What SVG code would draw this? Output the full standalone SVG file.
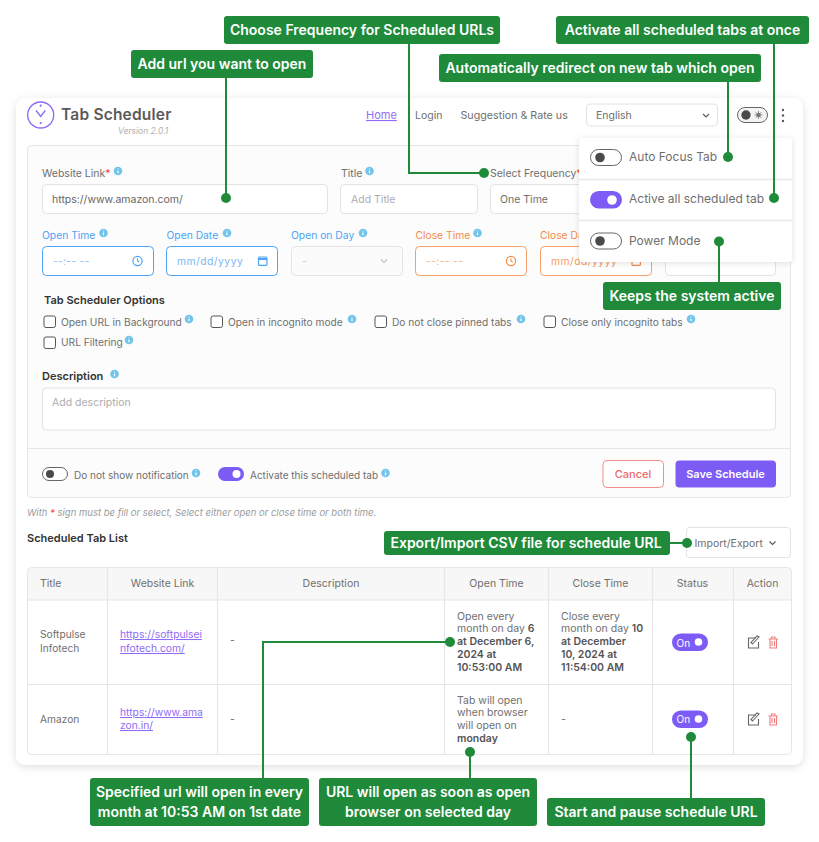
<svg xmlns="http://www.w3.org/2000/svg" width="819" height="842" viewBox="0 0 819 842">
<style>
text{font-family:"Inter","Liberation Sans",sans-serif;font-size:10.5px;fill:#6f6f6f}
.c{font-size:14px;font-weight:600;fill:#fff;text-anchor:middle}
.cb{fill:#1e8a3a}
.wire{fill:none;stroke:#1e8a3a;stroke-width:2}
.dot{fill:#1e8a3a}
.f{fill:#fff;stroke:#e2e2e2;stroke-width:1}
.b{font-weight:600;fill:#555}
.l{font-weight:600;fill:#333;font-size:11px}
.blue{fill:#4da3f5;font-size:10.3px}.or{fill:#f58a4b;font-size:10.3px}
.ph{fill:#adadad}
.m{text-anchor:middle}
.link{fill:#8f6cf5;text-decoration:underline;font-size:10.3px}
.g{stroke:#e6e6e6;stroke-width:1;fill:none}
.tog{fill:#fff;stroke:#666;stroke-width:1}
.on{fill:#7d5cf6}
.cbx{fill:#fff;stroke:#555;stroke-width:1}
.opt{font-size:10.2px}
.mi{font-size:12px}
</style>
<defs>
<filter id="sh" x="-5%" y="-5%" width="110%" height="110%"><feDropShadow dx="0" dy="2" stdDeviation="4" flood-color="#000" flood-opacity=".13"/></filter>
<filter id="sh2" x="-10%" y="-10%" width="120%" height="120%"><feDropShadow dx="0" dy="1" stdDeviation="3" flood-color="#000" flood-opacity=".12"/></filter>
<g id="i"><circle r="4.3" fill="#73c4ea"/><path d="M0-.5V2.3M0-2.6V-1.8" stroke="#fff" stroke-width="1.2"/></g>
<g id="clock"><circle r="4.6" fill="none" stroke="currentColor" stroke-width="1.2"/><path d="M0-2.6V0L1.8 1" fill="none" stroke="currentColor" stroke-width="1.1"/></g>
<g id="cal"><rect x="-4" y="-4" width="8.4" height="8.4" rx="1" fill="none" stroke="currentColor" stroke-width="1.2"/><path d="M-4-2H4.4" stroke="currentColor" stroke-width="2"/></g>
<path id="chev" d="M-3-1.5L0 1.5L3-1.5" fill="none" stroke="#555" stroke-width="1.1"/>
</defs>
<rect width="819" height="842" fill="#fff"/>

<g id="app-card">
<rect x="16" y="98" width="787" height="667" rx="10" fill="#fff" filter="url(#sh)"/>
<circle cx="40.700" cy="115" r="13" fill="none" stroke="#8b68f5" stroke-width="1.300"/>
<path d="M36 110.500L40.700 116.500L45.300 110.500" fill="none" stroke="#8b68f5" stroke-width="1.300"/>
<circle cx="40.700" cy="105.700" r="1.100" fill="#8b68f5"/><circle cx="40.700" cy="123" r="1.100" fill="#8b68f5"/>
<text x="61" y="120" style="font-size:15.500px;font-weight:600;fill:#5a5a5a;letter-spacing:.2px">Tab Scheduler</text>
<text x="118" y="134" style="font-size:8.500px;font-style:italic;fill:#b0b0b0">Version 2.0.1</text>
<text x="366" y="119" class="link" style="font-size:11px">Home</text>
<text x="415" y="119" style="font-size:10.500px">Login</text>
<text x="460.500" y="119" style="font-size:10.700px">Suggestion &amp; Rate us</text>
<rect x="586.500" y="104" width="131" height="22" rx="4" class="f"/>
<text x="596" y="119">English</text>
<use href="#chev" x="706" y="115.500"/>
<rect x="737.500" y="107.500" width="30" height="15" rx="7.500" fill="#f4f4f4" stroke="#666"/>
<circle cx="746" cy="115" r="4.700" fill="#4a4a4a"/>
<circle cx="758.500" cy="115" r="2.200" fill="#777"/>
<path d="M758.500 111V119M754.500 115H762.500M755.700 112.200L761.300 117.800M761.300 112.200L755.700 117.800" stroke="#777" stroke-width=".8"/>
<circle cx="783" cy="110" r="1.200" fill="#555"/><circle cx="783" cy="115.500" r="1.200" fill="#555"/><circle cx="783" cy="121" r="1.200" fill="#555"/>
</g>

<g id="form-panel">
<rect x="27.500" y="145.500" width="763" height="352" rx="4" fill="#fcfcfc" stroke="#e6e6e6"/>
<path class="g" d="M28 448.500H790" stroke-width="1.500"/>
<text x="42" y="177">Website Link<tspan fill="#f33">*</tspan></text><use href="#i" x="118" y="171"/>
<rect x="42.500" y="184.500" width="285" height="29" rx="4" class="f"/>
<text x="52" y="203" style="fill:#666">https://www.amazon.com/</text>
<text x="341" y="177">Title</text><use href="#i" x="369.500" y="171"/>
<rect x="340.500" y="184.500" width="137" height="29" rx="4" class="f"/>
<text x="351" y="203" class="ph">Add Title</text>
<text x="490" y="177">Select Frequency<tspan fill="#f33">*</tspan></text>
<rect x="490.500" y="184.500" width="137" height="29" rx="4" class="f"/>
<text x="500" y="203">One Time</text>

<text x="42" y="239" class="blue">Open Time</text><use href="#i" x="103.500" y="233"/>
<rect x="42.500" y="246.500" width="111" height="29" rx="4" fill="#fff" stroke="#4da3f5"/>
<text x="53" y="265" class="blue" style="fill:#8cc2f7;letter-spacing:.3px">--:-- --</text>
<use href="#clock" x="137.500" y="261" color="#4da3f5"/>
<text x="166.500" y="239" class="blue">Open Date</text><use href="#i" x="227" y="233"/>
<rect x="166.500" y="246.500" width="111" height="29" rx="4" fill="#fff" stroke="#4da3f5"/>
<text x="177" y="265" class="blue" style="fill:#7ab7f5;letter-spacing:.5px">mm/dd/yyyy</text>
<use href="#cal" x="262.500" y="261" color="#4da3f5"/>
<text x="291" y="239" class="blue">Open on Day</text><use href="#i" x="363" y="233"/>
<rect x="291.500" y="246.500" width="111" height="29" rx="4" fill="#fbfbfb" stroke="#e4e4e4"/>
<text x="302" y="265" style="fill:#ccc">-</text>
<use href="#chev" x="384" y="261" style="opacity:.35"/>
<text x="415.500" y="239" class="or">Close Time</text><use href="#i" x="477.500" y="233"/>
<rect x="415.500" y="246.500" width="111" height="29" rx="4" fill="#fff" stroke="#f5a069"/>
<text x="426" y="265" style="fill:#f8b48a;letter-spacing:.3px">--:-- --</text>
<use href="#clock" x="511" y="261" color="#f58a4b"/>
<text x="540" y="239" class="or">Close Date</text>
<rect x="540.500" y="246.500" width="111" height="29" rx="4" fill="#fff" stroke="#f5a069"/>
<text x="551" y="265" class="or" style="fill:#f59a64;letter-spacing:.5px">mm/dd/yyyy</text>
<use href="#cal" x="636" y="261" color="#f58a4b"/>
<rect x="665.500" y="246.500" width="110" height="29" rx="4" class="f"/>

<text x="44" y="304" class="l">Tab Scheduler Options</text>
<rect x="44" y="316" width="11.500" height="11.500" rx="2" class="cbx"/><text x="61" y="326" class="opt">Open URL in Background</text><use href="#i" x="189" y="319"/>
<rect x="211" y="316" width="11.500" height="11.500" rx="2" class="cbx"/><text x="228" y="326" class="opt">Open in incognito mode</text><use href="#i" x="352" y="319"/>
<rect x="375" y="316" width="11.500" height="11.500" rx="2" class="cbx"/><text x="392" y="326" class="opt">Do not close pinned tabs</text><use href="#i" x="521" y="319"/>
<rect x="544" y="316" width="11.500" height="11.500" rx="2" class="cbx"/><text x="561" y="326" class="opt">Close only incognito tabs</text><use href="#i" x="691" y="319"/>
<rect x="44" y="337" width="11.500" height="11.500" rx="2" class="cbx"/><text x="61" y="346" class="opt">URL Filtering</text><use href="#i" x="129" y="340"/>

<text x="42" y="380" class="l">Description</text><use href="#i" x="114.500" y="374"/>
<rect x="42.500" y="388" width="733" height="42" rx="4" class="f"/>
<text x="52" y="406" class="ph">Add description</text>

<rect x="42.500" y="467.500" width="25" height="13" rx="6.500" class="tog"/><circle cx="50" cy="474" r="4" fill="#4a4a4a"/>
<text x="74" y="479" style="font-size:10px">Do not show notification</text><use href="#i" x="196" y="473"/>
<rect x="218" y="467" width="26" height="14" rx="7" class="on"/><circle cx="236.500" cy="474" r="4" fill="#fff"/>
<text x="250" y="479" style="font-size:10px">Activate this scheduled tab</text><use href="#i" x="385.500" y="473"/>
<rect x="603" y="460.500" width="60.500" height="27" rx="4" fill="#fff" stroke="#f58a8a"/>
<text x="633" y="478" class="m" style="font-size:11px;fill:#f06a6a;font-weight:500">Cancel</text>
<rect x="675.500" y="460.500" width="100.500" height="27" rx="4" class="on"/>
<text x="725.500" y="478" class="m" style="font-size:11px;fill:#fff;font-weight:600">Save Schedule</text>
</g>
<text id="note" x="27" y="516" style="font-size:9.500px;font-style:italic;fill:#9a9a9a">With <tspan fill="#f33">*</tspan> sign must be fill or select, Select either open or close time or both time.</text>

<g id="menu">
<rect x="579" y="138" width="213" height="124" rx="4" fill="#fff" filter="url(#sh2)"/>
<path d="M579 179.500H792M579 220.500H792" stroke="#e8e8e8" stroke-width="1.500"/>
<rect x="590.500" y="149.500" width="31" height="16" rx="8" class="tog"/><circle cx="600" cy="157.500" r="4.800" fill="#4a4a4a"/>
<text x="629" y="161" class="mi">Auto Focus Tab</text>
<rect x="590" y="191" width="32" height="17.500" rx="8.700" class="on"/><circle cx="612" cy="200" r="4.800" fill="#fff"/>
<text x="629" y="203" class="mi">Active all scheduled tab</text>
<rect x="590.500" y="233" width="31" height="16" rx="8" class="tog"/><circle cx="600" cy="241" r="4.800" fill="#4a4a4a"/>
<text x="629" y="244.500" class="mi">Power Mode</text>
</g>

<g id="list-head">
<text x="27" y="542" class="l">Scheduled Tab List</text>
<rect x="686.500" y="527.500" width="104" height="30" rx="3" class="f"/>
<text x="694.500" y="546.500">Import/Export</text>
<use href="#chev" x="772.500" y="543"/>
</g>

<g id="table">
<rect x="27.500" y="567.500" width="764" height="187" rx="4" fill="#fff"/>
<path d="M28 568H791V600H28Z" fill="#f7f7f7"/>
<rect x="27.500" y="567.500" width="764" height="187" rx="4" class="g"/>
<path class="g" d="M28 600H791M28 684.500H791M107.500 568V754M217.500 568V754M444.500 568V754M548.500 568V754M652.500 568V754M733.500 568V754" style="stroke-width:1.200"/>
<text x="40" y="587">Title</text>
<text x="162.500" y="587" class="m">Website Link</text>
<text x="331" y="587" class="m">Description</text>
<text x="496.500" y="587" class="m">Open Time</text>
<text x="600.500" y="587" class="m">Close Time</text>
<text x="692.500" y="587" class="m">Status</text>
<text x="762.500" y="587" class="m">Action</text>
<text x="40" y="638" style="font-size:10.200px">Softpulse</text><text x="40" y="652" style="font-size:10.200px">Infotech</text>
<text x="120" y="638" class="link">https://softpulsei</text><text x="120" y="652" class="link">nfotech.com/</text>
<text x="230" y="644">-</text>
<text x="457" y="620">Open every</text>
<text x="457" y="632">month on day <tspan class="b">6</tspan></text>
<text x="457" y="645" class="b">at December 6,</text>
<text x="457" y="658" class="b">2024 at</text>
<text x="457" y="671" class="b">10:53:00 AM</text>
<text x="561" y="620">Close every</text>
<text x="561" y="632">month on day <tspan class="b">10</tspan></text>
<text x="561" y="645" class="b">at December</text>
<text x="561" y="658" class="b">10, 2024 at</text>
<text x="561" y="671" class="b">11:54:00 AM</text>
<rect x="672" y="633.500" width="36" height="17.500" rx="8.700" class="on"/>
<text x="676.500" y="646.500" style="fill:#fff;font-size:10px">On</text><circle cx="698.500" cy="642" r="3.800" fill="#fff"/>
<g fill="none" stroke="#666" stroke-width="1.100"><path d="M756 638H748.500V648H758.500V642"/><path d="M752.500 644L759 637L757 636L751 642.500Z"/></g>
<g fill="none" stroke="#f37c7c" stroke-width="1.100"><path d="M768.500 639H778M770 639V648H776.500V639M771.500 639V637H775V639M772 641V646M774.500 641V646"/></g>
<text x="40" y="723" style="font-size:10.200px">Amazon</text>
<text x="120" y="716" class="link">https://www.ama</text><text x="120" y="729" class="link">zon.in/</text>
<text x="230" y="723">-</text>
<text x="457" y="704">Tab will open</text>
<text x="457" y="716">when browser</text>
<text x="457" y="729">will open on</text>
<text x="457" y="742" class="b">monday</text>
<text x="561" y="723">-</text>
<rect x="672" y="710.500" width="36" height="17.500" rx="8.700" class="on"/>
<text x="676.500" y="723" style="fill:#fff;font-size:10px">On</text><circle cx="698.500" cy="719" r="3.800" fill="#fff"/>
<g fill="none" stroke="#666" stroke-width="1.100"><path d="M756 715H748.500V725H758.500V719"/><path d="M752.500 721L759 714L757 713L751 719.500Z"/></g>
<g fill="none" stroke="#f37c7c" stroke-width="1.100"><path d="M768.500 716H778M770 716V725H776.500V716M771.500 716V714H775V716M772 718V723M774.500 718V723"/></g>
</g>

<g id="connectors">
<path class="wire" d="M226 78V198"/><circle class="dot" cx="226" cy="198" r="5"/>
<path class="wire" d="M409 44V173H484"/><circle class="dot" cx="484" cy="173" r="5"/>
<path class="wire" d="M774 44V198"/><circle class="dot" cx="774" cy="198" r="5"/>
<path class="wire" d="M728 82V157"/><circle class="dot" cx="728" cy="157" r="5"/>
<path class="wire" d="M719 282V241.500"/><circle class="dot" cx="719" cy="241.500" r="5"/>
<path class="wire" d="M670 543H687"/><circle class="dot" cx="687" cy="543" r="5"/>
<path class="wire" d="M263 778V642H450"/><circle class="dot" cx="450" cy="642" r="5"/>
<path class="wire" d="M470 778V752"/><circle class="dot" cx="470" cy="752" r="5"/>
<path class="wire" d="M691 798V737"/><circle class="dot" cx="691" cy="737" r="5"/>
</g>

<g id="note-add-url"><rect class="cb" x="131" y="50" width="182" height="28" rx="3"/><text class="c" x="222" y="69">Add url you want to open</text></g>
<g id="note-frequency"><rect class="cb" x="224" y="16" width="276" height="28" rx="3"/><text class="c" x="362" y="35">Choose Frequency for Scheduled URLs</text></g>
<g id="note-activate"><rect class="cb" x="556" y="16" width="253" height="28" rx="3"/><text class="c" x="682.500" y="35">Activate all scheduled tabs at once</text></g>
<g id="note-redirect"><rect class="cb" x="439" y="54" width="322" height="28" rx="3"/><text class="c" x="600" y="73">Automatically redirect on new tab which open</text></g>
<g id="note-keeps"><rect class="cb" x="603" y="282" width="178" height="28" rx="3"/><text class="c" x="692" y="301">Keeps the system active</text></g>
<g id="note-export"><rect class="cb" x="384" y="531" width="286" height="24" rx="3"/><text class="c" x="526" y="548">Export/Import CSV file for schedule URL</text></g>
<g id="note-specified"><rect class="cb" x="90" y="778" width="219" height="48" rx="3"/><text class="c" x="199.500" y="797">Specified url will open in every</text><text class="c" x="199.500" y="817">month at 10:53 AM on 1st date</text></g>
<g id="note-browser"><rect class="cb" x="319" y="778" width="218" height="48" rx="3"/><text class="c" x="428" y="797">URL will open as soon as open</text><text class="c" x="428" y="817">browser on selected day</text></g>
<g id="note-start"><rect class="cb" x="547" y="798" width="218" height="28" rx="3"/><text class="c" x="656" y="817">Start and pause schedule URL</text></g>
</svg>
